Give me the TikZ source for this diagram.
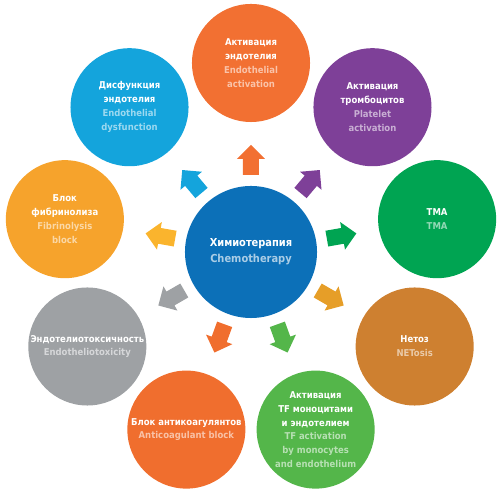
\documentclass[tikz,border=0pt]{standalone}
\usepackage{fontspec}
\usepackage{xcolor}
\setmainfont{DejaVu Sans Condensed}
\definecolor{hubblue}{RGB}{12,112,184}
\definecolor{actorange}{RGB}{242,112,50}
\definecolor{platpurple}{RGB}{126,64,152}
\definecolor{tmagreen}{RGB}{0,164,82}
\definecolor{netgold}{RGB}{206,128,48}
\definecolor{tfgreen}{RGB}{84,182,74}
\definecolor{antiorange}{RGB}{240,110,46}
\definecolor{toxgray}{RGB}{158,161,164}
\definecolor{fibyellow}{RGB}{246,163,44}
\definecolor{dysblue}{RGB}{20,164,220}
\definecolor{arrgold}{RGB}{230,158,40}
\definecolor{arryellow}{RGB}{250,180,45}
\newcommand{\en}[1]{\textcolor{entext}{#1}}

\begin{document}
\begin{tikzpicture}[x=0.025cm, y=0.025cm,
    bubble/.style={circle, fill=#1, minimum size=2.95cm, inner sep=0pt,
      align=center, text=white, font=\bfseries\fontsize{6.7}{9.9}\selectfont,
      execute at begin node={\colorlet{entext}{#1!42!white}}},
    hub/.style={circle, fill=hubblue, minimum size=3.3cm, inner sep=0pt,
      align=center, text=white, font=\bfseries\fontsize{7.8}{11.3}\selectfont,
      execute at begin node={\colorlet{entext}{hubblue!35!white}}}]
  \useasboundingbox (-251,-245) rectangle (249,252);
  % centre
  \node[hub] (chemo) at (0,0) {Химиотерапия\\\en{Chemotherapy}};
  % outer circles
  \node[bubble=actorange] (endact) at (90:189) {Активация\\эндотелия\\\en{Endothelial}\\\en{activation}};
  \node[bubble=platpurple] (platact) at (50:189) {Активация\\тромбоцитов\\\en{Platelet}\\\en{activation}};
  \node[bubble=tmagreen] (tma) at (10:189) {ТМА\\\en{TMA}};
  \node[bubble=netgold] (netosis) at (-30:189) {Нетоз\\\en{NETosis}};
  \node[bubble=tfgreen] (tfact) at (-70:189) {Активация\\TF моноцитами\\и эндотелием\\\en{TF activation}\\\en{by monocytes}\\\en{and endothelium}};
  \node[bubble=antiorange] (anticoag) at (-110:189) {Блок антикоагулянтов\\\en{Anticoagulant block}};
  \node[bubble=toxgray] (endotox) at (-150:189) {Эндотелиотоксичность\\\en{Endotheliotoxicity}};
  \node[bubble=fibyellow] (fibblock) at (170:189) {Блок\\фибринолиза\\\en{Fibrinolysis}\\\en{block}};
  \node[bubble=dysblue] (enddys) at (130:189) {Дисфункция\\эндотелия\\\en{Endothelial}\\\en{dysfunction}};
  % block arrows
  \foreach \ang/\col in {90/actorange, 50/platpurple, 10/tmagreen, -30/arrgold,
      -70/tfgreen, -110/antiorange, -150/toxgray, 170/arryellow, 130/dysblue}
    \fill[\col, rotate=\ang] (77,-8) -- (93,-8) -- (93,-14) -- (107,0)
      -- (93,14) -- (93,8) -- (77,8) -- cycle;
\end{tikzpicture}
\end{document}
